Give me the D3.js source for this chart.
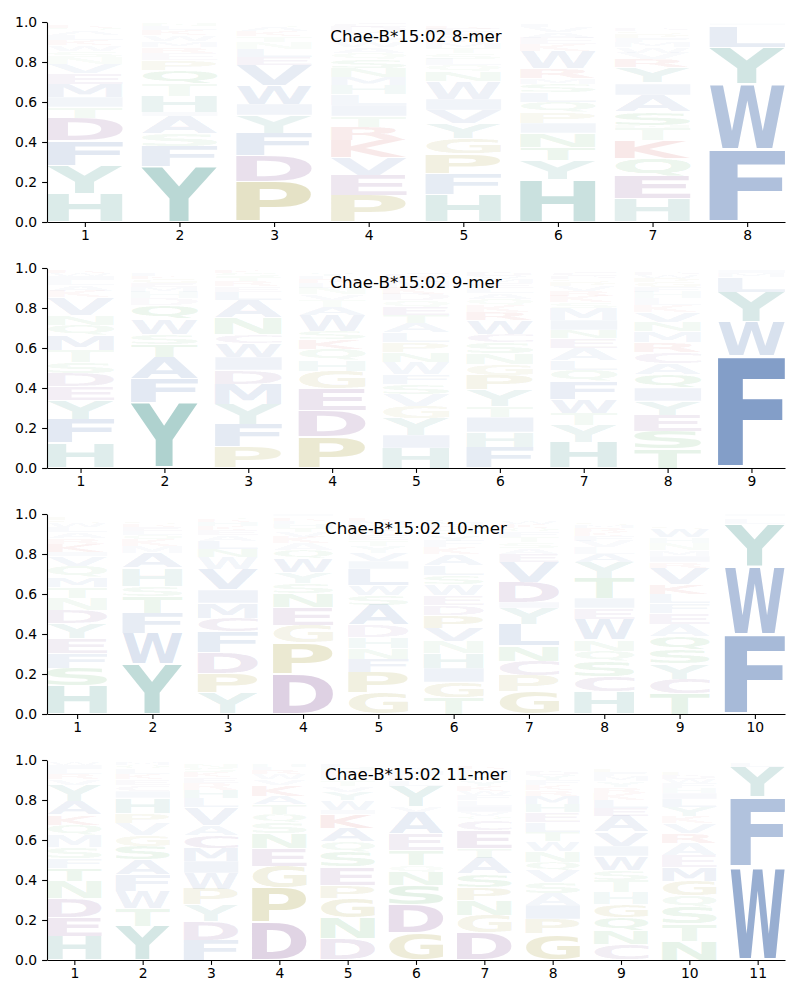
<!DOCTYPE html>
<html>
<head>
<meta charset="utf-8">
<script src="https://cdn.jsdelivr.net/npm/d3@7"></script>
<style>
  body { margin: 0; background: #fff; }
  svg text { font-family: "DejaVu Sans", sans-serif; }
</style>
</head>
<body>
<svg id="chart" width="800" height="1000"></svg>
<script>
// Chae-B*15:02 peptide logos, one panel per peptide length
const allele = "Chae-B*15:02";
const lengths = [8, 9, 10, 11];
const yTicks = [0, 0.2, 0.4, 0.6, 0.8, 1.0];

// each column is stacked bottom to top: [residue, frequency]
const logo8 = [
  [["H",.14],["Y",.14],["F",.125],["D",.115],["T",.055],["I",.05],["M",.065],["E",.055],["V",.045],["N",.035],["S",.03],["W",.03],["K",.025],["L",.025],["A",.02],["Q",.015],["R",.015],["G",.01]],
  [["Y",.28],["F",.1],["S",.06],["A",.09],["I",.02],["H",.08],["T",.06],["Q",.07],["P",.05],["E",.035],["R",.03],["M",.03],["W",.03],["K",.025],["L",.02],["N",.015],["V",.01]],
  [["P",.2],["D",.13],["F",.115],["Y",.09],["I",.055],["W",.095],["V",.1],["E",.04],["L",.04],["N",.035],["T",.03],["K",.025],["A",.02],["S",.015],["G",.01]],
  [["P",.135],["E",.1],["V",.09],["K",.085],["R",.065],["T",.055],["I",.055],["L",.055],["H",.045],["M",.04],["N",.045],["S",.045],["Q",.03],["A",.03],["W",.025],["F",.02],["Y",.015],["G",.01],["D",.03],["C",.02]],
  [["H",.135],["F",.105],["P",.1],["G",.08],["Y",.075],["V",.065],["I",.055],["W",.09],["N",.05],["Q",.03],["L",.03],["S",.03],["T",.025],["M",.025],["K",.02],["A",.02],["E",.03],["R",.015],["D",.01],["C",.01]],
  [["H",.215],["Y",.095],["T",.065],["N",.07],["I",.05],["P",.055],["Q",.05],["L",.05],["S",.04],["M",.03],["R",.05],["W",.085],["K",.035],["E",.03],["A",.03],["V",.025],["F",.015],["G",.01]],
  [["H",.115],["E",.115],["Q",.09],["K",.09],["T",.06],["N",.015],["S",.065],["A",.085],["I",.055],["L",.01],["Y",.075],["R",.04],["V",.03],["W",.03],["M",.025],["F",.02],["P",.02],["G",.015],["D",.015],["C",.01]],
  [["F",.36],["W",.33],["Y",.185],["L",.1],["M",.01],["I",.008],["V",.007]]
];

const logo9 = [
  [["H",.125],["F",.12],["Y",.095],["E",.07],["D",.065],["S",.055],["T",.06],["M",.075],["Q",.05],["N",.05],["V",.09],["K",.03],["A",.03],["L",.025],["I",.02],["W",.015],["R",.015],["G",.01]],
  [["Y",.325],["F",.12],["A",.11],["T",.065],["S",.05],["W",.075],["Q",.07],["D",.035],["H",.03],["M",.025],["E",.02],["G",.02],["K",.015],["L",.015],["R",.01],["N",.01]],
  [["P",.105],["F",.115],["Y",.1],["M",.1],["D",.07],["I",.065],["W",.07],["C",.045],["N",.08],["A",.09],["L",.04],["E",.03],["R",.025],["T",.02],["S",.02],["K",.015],["G",.01]],
  [["P",.155],["D",.13],["E",.11],["G",.09],["H",.055],["Q",.055],["K",.05],["S",.04],["W",.08],["A",.04],["T",.035],["V",.03],["N",.03],["L",.025],["R",.02],["F",.015],["Y",.015],["M",.01]],
  [["H",.1],["I",.065],["Y",.085],["G",.06],["V",.06],["S",.05],["F",.05],["W",.06],["N",.05],["P",.05],["L",.05],["A",.045],["T",.04],["E",.04],["Q",.035],["D",.03],["K",.03],["M",.03],["R",.025],["C",.02]],
  [["F",.105],["H",.075],["I",.075],["T",.055],["Y",.08],["P",.075],["G",.055],["N",.055],["S",.055],["C",.04],["W",.07],["R",.04],["K",.035],["Q",.03],["A",.03],["L",.025],["E",.025],["M",.02],["V",.015],["D",.02]],
  [["H",.13],["Y",.085],["T",.06],["W",.07],["F",.09],["Q",.055],["L",.05],["A",.06],["E",.05],["N",.04],["I",.05],["M",.06],["S",.03],["K",.03],["R",.025],["V",.025],["P",.02],["G",.015],["D",.015],["C",.02]],
  [["T",.095],["S",.09],["E",.08],["Y",.07],["I",.065],["Q",.07],["A",.055],["C",.055],["R",.05],["M",.055],["N",.045],["V",.05],["K",.035],["L",.035],["H",.03],["F",.025],["G",.025],["P",.02],["W",.015],["D",.015]],
  [["F",.56],["W",.17],["Y",.15],["L",.075],["M",.02],["I",.015],["V",.01]]
];

const logo10 = [
  [["H",.14],["S",.09],["F",.075],["E",.075],["Y",.075],["D",.065],["N",.06],["T",.055],["M",.05],["Q",.055],["V",.05],["I",.02],["K",.04],["R",.03],["A",.03],["L",.025],["W",.02],["G",.015],["P",.015],["C",.01]],
  [["Y",.25],["W",.155],["F",.1],["T",.085],["S",.05],["H",.09],["A",.075],["M",.035],["K",.03],["Q",.025],["L",.02],["E",.02],["R",.015],["G",.015],["N",.01],["V",.01]],
  [["Y",.105],["P",.1],["D",.1],["F",.105],["C",.07],["M",.075],["I",.065],["V",.105],["W",.06],["N",.04],["L",.04],["A",.03],["E",.025],["K",.02],["H",.02],["R",.015],["S",.015],["T",.01]],
  [["D",.2],["P",.155],["G",.09],["E",.09],["N",.07],["S",.05],["Y",.055],["W",.07],["Q",.04],["A",.035],["K",.03],["V",.025],["T",.02],["H",.02],["L",.015],["R",.015],["F",.01],["I",.01]],
  [["G",.105],["P",.105],["F",.065],["N",.055],["H",.055],["D",.06],["A",.1],["S",.05],["W",.05],["L",.08],["I",.04],["V",.04],["Y",.035],["T",.03],["E",.025],["K",.025],["Q",.025],["M",.02],["R",.015],["C",.01]],
  [["T",.08],["G",.08],["I",.07],["H",.075],["N",.06],["V",.065],["P",.065],["D",.05],["E",.05],["W",.055],["S",.045],["L",.05],["A",.055],["K",.035],["F",.03],["Y",.03],["Q",.025],["R",.02],["M",.02],["C",.015]],
  [["G",.11],["P",.08],["C",.075],["N",.075],["L",.11],["Y",.08],["I",.03],["D",.1],["V",.1],["E",.04],["A",.03],["S",.03],["T",.025],["F",.025],["Q",.02],["K",.02],["W",.015],["R",.01]],
  [["H",.11],["C",.075],["S",.08],["Q",.05],["N",.055],["W",.105],["E",.055],["I",.05],["T",.1],["Y",.08],["A",.04],["L",.035],["V",.03],["F",.025],["K",.02],["R",.02],["M",.015],["G",.015],["D",.01]],
  [["T",.1],["C",.075],["Y",.075],["S",.07],["Q",.07],["A",.06],["E",.055],["F",.05],["L",.045],["K",.05],["V",.08],["R",.03],["I",.03],["M",.03],["N",.035],["H",.03],["W",.04],["G",.015],["P",.01],["D",.01]],
  [["F",.395],["W",.345],["Y",.21],["L",.03],["M",.01],["I",.01]]
];

const logo11 = [
  [["H",.12],["E",.095],["D",.095],["N",.085],["T",.065],["F",.05],["S",.055],["M",.06],["Q",.05],["K",.05],["A",.07],["Y",.08],["V",.03],["R",.025],["L",.025],["I",.02],["W",.015],["G",.01]],
  [["Y",.17],["T",.09],["W",.085],["F",.08],["A",.075],["S",.07],["G",.055],["V",.06],["P",.05],["H",.075],["I",.035],["C",.03],["E",.03],["K",.025],["L",.025],["Q",.02],["M",.015],["R",.01]],
  [["F",.1],["D",.095],["Y",.08],["P",.08],["W",.08],["I",.06],["M",.065],["C",.065],["A",.05],["V",.09],["L",.045],["H",.04],["R",.035],["E",.03],["K",.025],["S",.02],["N",.02],["T",.01]],
  [["D",.19],["P",.17],["G",.11],["E",.09],["N",.075],["S",.055],["Q",.04],["T",.05],["A",.04],["K",.055],["V",.03],["W",.025],["R",.02],["L",.015],["H",.015],["Y",.01],["F",.01]],
  [["D",.105],["N",.105],["G",.1],["P",.065],["E",.09],["S",.075],["Q",.05],["A",.07],["K",.07],["I",.02],["W",.05],["Y",.04],["V",.03],["T",.03],["L",.025],["R",.02],["H",.02],["F",.015],["M",.01]],
  [["G",.135],["D",.14],["S",.1],["N",.065],["Q",.035],["T",.075],["E",.08],["A",.11],["V",.03],["Y",.1],["L",.03],["K",.025],["I",.02],["W",.015],["F",.01],["R",.01],["H",.01]],
  [["D",.135],["G",.09],["N",.075],["P",.065],["S",.065],["A",.08],["T",.05],["E",.09],["C",.05],["Q",.02],["V",.02],["I",.03],["L",.03],["F",.025],["W",.02],["K",.025],["Y",.03],["H",.025],["M",.03],["R",.015]],
  [["G",.13],["P",.075],["I",.07],["A",.06],["S",.055],["V",.06],["Q",.04],["N",.055],["W",.05],["T",.045],["L",.05],["E",.05],["H",.04],["M",.04],["R",.03],["K",.025],["F",.025],["Y",.025],["D",.02],["C",.01]],
  [["C",.08],["N",.07],["Q",.065],["G",.065],["H",.06],["T",.06],["S",.05],["W",.07],["I",.05],["V",.07],["A",.08],["E",.04],["L",.04],["K",.035],["R",.03],["Y",.03],["M",.025],["F",.02],["P",.015],["D",.01]],
  [["N",.095],["T",.085],["S",.085],["Q",.055],["G",.075],["M",.07],["E",.06],["A",.06],["R",.05],["V",.05],["K",.035],["Y",.045],["L",.04],["I",.03],["H",.025],["F",.025],["W",.02],["D",.02],["P",.015],["C",.01]],
  [["W",.465],["F",.35],["Y",.15],["L",.02],["M",.01],["V",.005]]
];

const logos = [logo8, logo9, logo10, logo11];

// residue groups -> colour
const groupColor = {
  hydrophobic: "#4c72b0",
  aromaticPolar: "#3a8f87",
  acidic: "#7d4a90",
  special: "#9a8f20",
  polar: "#40a050",
  basic: "#c03a3a"
};
const residueGroup = {
  A: "hydrophobic", F: "hydrophobic", I: "hydrophobic", L: "hydrophobic", M: "hydrophobic", V: "hydrophobic", W: "hydrophobic",
  H: "aromaticPolar", Y: "aromaticPolar",
  D: "acidic", E: "acidic", C: "acidic",
  G: "special", P: "special",
  N: "polar", Q: "polar", S: "polar", T: "polar",
  K: "basic", R: "basic"
};

const svg = d3.select("#chart");
const plotLeft = 47, plotW = 738, plotH = 200;
const panelTops = [22, 268, 514, 760];
const letterWidth = 0.8;
const vpad = 0.05;

// more frequent residues are drawn more opaque
const opacity = d3.scaleLinear().domain([0, 0.6]).range([0.01, 0.74]).clamp(true);

// ink extents of each glyph, so letters can be stretched to fill their box
const ctx = document.createElement("canvas").getContext("2d");
ctx.font = "bold 100px 'DejaVu Sans'";
const inkCache = {};
function ink(ch) {
  if (!inkCache[ch]) {
    const m = ctx.measureText(ch);
    inkCache[ch] = {
      x0: -m.actualBoundingBoxLeft, x1: m.actualBoundingBoxRight,
      y0: -m.actualBoundingBoxAscent, y1: m.actualBoundingBoxDescent
    };
  }
  return inkCache[ch];
}

logos.forEach((cols, i) => {
  const n = cols.length;
  const g = svg.append("g")
    .attr("transform", `translate(${plotLeft},${panelTops[i]})`);

  const x = d3.scaleLinear().domain([1 - letterWidth / 2, n + letterWidth / 2]).range([0, plotW]);
  const y = d3.scaleLinear().domain([0, 1]).range([plotH, 0]);

  // stack letters
  const glyphs = [];
  cols.forEach((col, j) => {
    let base = 0;
    col.forEach(([aa, p]) => {
      glyphs.push({ aa, p, pos: j + 1, lo: base + p * vpad / 2, hi: base + p - p * vpad / 2 });
      base += p;
    });
  });

  g.append("g").selectAll("text")
    .data(glyphs)
    .join("text")
    .attr("x", 0)
    .attr("y", 0)
    .style("font-size", "100px")
    .style("font-weight", "bold")
    .attr("fill", d => groupColor[residueGroup[d.aa]])
    .attr("fill-opacity", d => opacity(d.p))
    .attr("transform", d => {
      const b = ink(d.aa);
      const gx = x(d.pos - letterWidth / 2);
      const gw = x(d.pos + letterWidth / 2) - gx;
      const gy = y(d.hi);
      const gh = y(d.lo) - gy;
      const sx = gw / (b.x1 - b.x0);
      const sy = gh / (b.y1 - b.y0);
      return `translate(${gx},${gy}) scale(${sx},${sy}) translate(${-b.x0},${-b.y0})`;
    })
    .text(d => d.aa);

  // axes
  const yAxis = g.append("g")
    .call(d3.axisLeft(y).tickValues(yTicks).tickFormat(d3.format(".1f"))
      .tickSize(4.9).tickPadding(4.9).tickSizeOuter(0));
  const xAxis = g.append("g")
    .attr("transform", `translate(0,${plotH})`)
    .call(d3.axisBottom(x).tickValues(d3.range(1, n + 1)).tickFormat(d3.format("d"))
      .tickSize(4.9).tickPadding(3.5).tickSizeOuter(0));
  [yAxis, xAxis].forEach(a => {
    a.selectAll("path, line").attr("stroke", "#000").attr("stroke-width", 1.1);
    a.selectAll("text").style("font-size", "13.9px").style("font-family", "DejaVu Sans").attr("fill", "#000");
  });

  g.append("text")
    .attr("x", plotW / 2)
    .attr("y", 20)
    .attr("text-anchor", "middle")
    .style("font-size", "16.7px")
    .attr("fill", "#000")
    .text(`${allele} ${lengths[i]}-mer`);
});
</script>
</body>
</html>
